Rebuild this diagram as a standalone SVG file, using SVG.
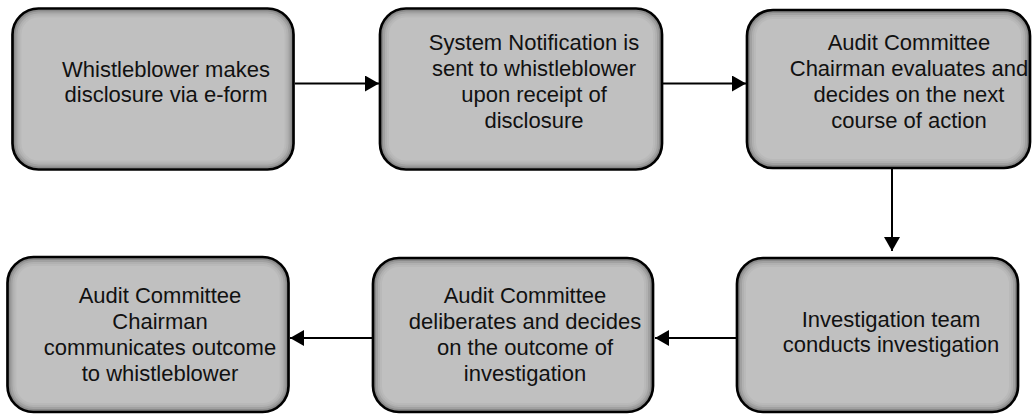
<svg xmlns="http://www.w3.org/2000/svg" width="1033" height="414" viewBox="0 0 1033 414">
  <style>
    .fill { fill: #c0c0c0; }
    .edge { fill: none; stroke: #000; stroke-width: 2.7; }
    .r { fill: none; stroke: #000; stroke-width: 2; }
    .r1 { stroke-opacity: 0.28; }
    .r2 { stroke-opacity: 0.16; }
    .r3 { stroke-opacity: 0.08; }
    .r4 { stroke-opacity: 0.035; }
    .lbl { font-family: "Liberation Sans", Arial, sans-serif; font-size: 22px; fill: #111; text-anchor: middle; }
    .conn { stroke: #000; stroke-width: 2; fill: none; marker-end: url(#arrow); }
  </style>
  <defs>
    <marker id="arrow" viewBox="0 0 14 16" refX="14" refY="8" markerWidth="14" markerHeight="16" markerUnits="userSpaceOnUse" orient="auto">
      <path d="M0,0 L14,8 L0,16 Z" fill="#000"/>
    </marker>
  </defs>

  <g id="n1">
    <rect class="fill" x="12.5" y="8.5" width="281" height="161" rx="26"/>
    <rect class="r r1" x="14.5" y="10.5" width="277" height="157" rx="24"/>
    <rect class="r r2" x="16.5" y="12.5" width="273" height="153" rx="22"/>
    <rect class="r r3" x="18.5" y="14.5" width="269" height="149" rx="20"/>
    <rect class="r r4" x="20.5" y="16.5" width="265" height="145" rx="18"/>
    <rect class="edge" x="12.5" y="8.5" width="281" height="161" rx="26"/>
    <text class="lbl" x="166" y="77">Whistleblower makes</text>
    <text class="lbl" x="166" y="102">disclosure via e-form</text>
  </g>
  <g id="n2">
    <rect class="fill" x="380" y="8.5" width="282" height="161" rx="26"/>
    <rect class="r r1" x="382" y="10.5" width="278" height="157" rx="24"/>
    <rect class="r r2" x="384" y="12.5" width="274" height="153" rx="22"/>
    <rect class="r r3" x="386" y="14.5" width="270" height="149" rx="20"/>
    <rect class="r r4" x="388" y="16.5" width="266" height="145" rx="18"/>
    <rect class="edge" x="380" y="8.5" width="282" height="161" rx="26"/>
    <text class="lbl" x="534" y="49.5">System Notification is</text>
    <text class="lbl" x="534" y="75.5">sent to whistleblower</text>
    <text class="lbl" x="534" y="101.5">upon receipt of</text>
    <text class="lbl" x="534" y="127.5">disclosure</text>
  </g>
  <g id="n3">
    <rect class="fill" x="747" y="10" width="283" height="158" rx="26"/>
    <rect class="r r1" x="749" y="12" width="279" height="154" rx="24"/>
    <rect class="r r2" x="751" y="14" width="275" height="150" rx="22"/>
    <rect class="r r3" x="753" y="16" width="271" height="146" rx="20"/>
    <rect class="r r4" x="755" y="18" width="267" height="142" rx="18"/>
    <rect class="edge" x="747" y="10" width="283" height="158" rx="26"/>
    <text class="lbl" x="909" y="50">Audit Committee</text>
    <text class="lbl" x="909" y="76">Chairman evaluates and</text>
    <text class="lbl" x="909" y="102">decides on the next</text>
    <text class="lbl" x="909" y="127.5">course of action</text>
  </g>
  <g id="n4">
    <rect class="fill" x="737" y="258" width="281" height="154" rx="26"/>
    <rect class="r r1" x="739" y="260" width="277" height="150" rx="24"/>
    <rect class="r r2" x="741" y="262" width="273" height="146" rx="22"/>
    <rect class="r r3" x="743" y="264" width="269" height="142" rx="20"/>
    <rect class="r r4" x="745" y="266" width="265" height="138" rx="18"/>
    <rect class="edge" x="737" y="258" width="281" height="154" rx="26"/>
    <text class="lbl" x="891" y="327">Investigation team</text>
    <text class="lbl" x="891" y="352">conducts investigation</text>
  </g>
  <g id="n5">
    <rect class="fill" x="373" y="258" width="280" height="154" rx="26"/>
    <rect class="r r1" x="375" y="260" width="276" height="150" rx="24"/>
    <rect class="r r2" x="377" y="262" width="272" height="146" rx="22"/>
    <rect class="r r3" x="379" y="264" width="268" height="142" rx="20"/>
    <rect class="r r4" x="381" y="266" width="264" height="138" rx="18"/>
    <rect class="edge" x="373" y="258" width="280" height="154" rx="26"/>
    <text class="lbl" x="525" y="303">Audit Committee</text>
    <text class="lbl" x="525" y="329">deliberates and decides</text>
    <text class="lbl" x="525" y="355">on the outcome of</text>
    <text class="lbl" x="525" y="380.5">investigation</text>
  </g>
  <g id="n6">
    <rect class="fill" x="7.5" y="257" width="281" height="155" rx="26"/>
    <rect class="r r1" x="9.5" y="259" width="277" height="151" rx="24"/>
    <rect class="r r2" x="11.5" y="261" width="273" height="147" rx="22"/>
    <rect class="r r3" x="13.5" y="263" width="269" height="143" rx="20"/>
    <rect class="r r4" x="15.5" y="265" width="265" height="139" rx="18"/>
    <rect class="edge" x="7.5" y="257" width="281" height="155" rx="26"/>
    <text class="lbl" x="160" y="303">Audit Committee</text>
    <text class="lbl" x="160" y="329">Chairman</text>
    <text class="lbl" x="160" y="355">communicates outcome</text>
    <text class="lbl" x="160" y="380.5">to whistleblower</text>
  </g>

  <g id="connectors">
    <line class="conn" x1="295" y1="83.5" x2="379" y2="83.5"/>
    <line class="conn" x1="663" y1="83.5" x2="746" y2="83.5"/>
    <line class="conn" x1="892" y1="169" x2="892" y2="251"/>
    <line class="conn" x1="736" y1="338" x2="655" y2="338"/>
    <line class="conn" x1="372" y1="338" x2="290" y2="338"/>
  </g>
</svg>
